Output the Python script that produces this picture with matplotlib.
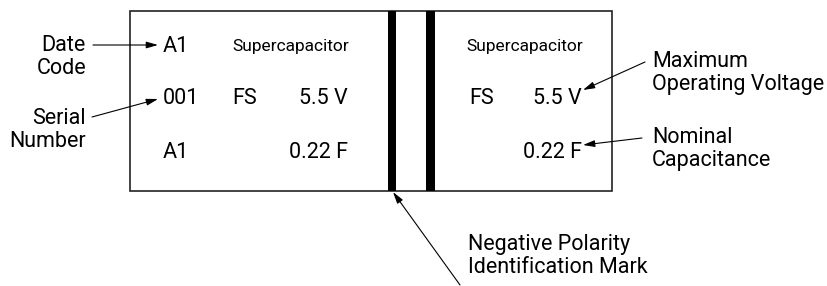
import matplotlib.pyplot as plt
from matplotlib.patches import Rectangle

# marking text on the body, row by row (left panel, right panel)
row_y = [46, 99, 153]
left_col1 = ["A1", "001", "A1"]
left_col2 = ["Supercapacitor", "FS", ""]
left_col3 = ["", "5.5 V", "0.22 F"]
right_col1 = ["Supercapacitor", "FS", ""]
right_col2 = ["", "5.5 V", "0.22 F"]

# callout labels: (text, text position, arrow start, arrow tip, alignment)
callouts = [
    ("Date\nCode", (86, 57), (93, 45), (158, 45), "right"),
    ("Serial\nNumber", (86, 130), (92, 117), (158, 99), "right"),
    ("Maximum\nOperating Voltage", (652, 73), (645, 62), (583, 90), "left"),
    ("Nominal\nCapacitance", (652, 149), (642, 138), (583, 145), "left"),
    ("Negative Polarity\nIdentification Mark", (468, 256), (460, 285), (393, 192), "left"),
]

FONT = "Roboto"
BIG = 15.5
SMALL = 12.5

fig = plt.figure(figsize=(8.28, 2.86), dpi=100)
ax = fig.add_axes([0, 0, 1, 1])
ax.set_xlim(0, 828)
ax.set_ylim(286, 0)
ax.axis("off")

# body outline and polarity stripes
ax.add_patch(Rectangle((130, 10.5), 482, 180, fill=False, lw=1.2, ec="#222222"))
ax.add_patch(Rectangle((388, 10.5), 8, 180, color="black", lw=0))
ax.add_patch(Rectangle((426.5, 10.5), 8.5, 180, color="black", lw=0))

for y, a, b, c in zip(row_y, left_col1, left_col2, left_col3):
    ax.text(163, y, a, fontsize=BIG, family=FONT, va="center", ha="left")
    if b:
        fs = SMALL if b == "Supercapacitor" else BIG
        ax.text(232, y, b, fontsize=fs, family=FONT, va="center", ha="left")
    if c:
        ax.text(348, y, c, fontsize=BIG, family=FONT, va="center", ha="right")

for y, a, b in zip(row_y, right_col1, right_col2):
    if a:
        fs = SMALL if a == "Supercapacitor" else BIG
        ax.text(466 if fs == SMALL else 469, y, a, fontsize=fs, family=FONT,
                va="center", ha="left")
    if b:
        ax.text(582, y, b, fontsize=BIG, family=FONT, va="center", ha="right")

for label, pos, start, tip, ha in callouts:
    ax.text(pos[0], pos[1], label, fontsize=BIG, family=FONT, va="center",
            ha=ha, linespacing=1.1)
    ax.annotate("", xy=tip, xytext=start,
                arrowprops=dict(arrowstyle="-|>,head_length=0.7,head_width=0.2",
                                lw=0.8, color="black", shrinkA=0, shrinkB=0))

fig.savefig("out.png", dpi=100)
